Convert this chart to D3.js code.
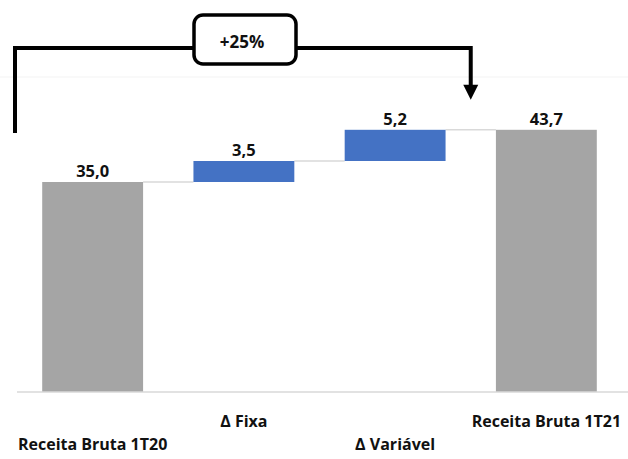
<!DOCTYPE html>
<html>
<head>
<meta charset="utf-8">
<script src="https://cdn.jsdelivr.net/npm/d3@7"></script>
<style>
  html, body { margin: 0; padding: 0; background: #fff; }
  svg text { font-family: "Open Sans", "Noto Sans", sans-serif; font-weight: 700; fill: #111; }
</style>
</head>
<body>
<svg id="chart" width="628" height="459"></svg>
<script>
// Receita bruta bridge: 1T20 -> 1T21
const categories = ["Receita Bruta 1T20", "Δ Fixa", "Δ Variável", "Receita Bruta 1T21"];
const values = [35.0, 3.5, 5.2, 43.7];
const kinds = ["total", "delta", "delta", "total"];
const valueLabels = ["35,0", "3,5", "5,2", "43,7"];
const growthLabel = "+25%";

const colors = { total: "#A5A5A5", delta: "#4472C4", connector: "#D9D9D9", axis: "#D9D9D9" };

const svg = d3.select("#chart");

const x = d3.scaleBand()
  .domain(categories)
  .range([17, 622])
  .paddingInner(0.333)
  .paddingOuter(0.1667);

const y = d3.scaleLinear().domain([0, 52.5]).range([392, 77]);

// Build floating segments: totals start at 0, deltas stack on the running total
let running = 0;
const bars = categories.map((c, i) => {
  let y0, y1;
  if (kinds[i] === "total") { y0 = 0; y1 = values[i]; running = values[i]; }
  else { y0 = running; y1 = running + values[i]; running = y1; }
  return { cat: c, y0, y1, kind: kinds[i], label: valueLabels[i] };
});

// faint plot-area top edge
svg.append("line")
  .attr("x1", 0).attr("x2", 628)
  .attr("y1", y.range()[1]).attr("y2", y.range()[1])
  .attr("stroke", "#f3f3f3").attr("stroke-width", 1);

// connectors between consecutive bars
for (let i = 0; i < bars.length - 1; i++) {
  const top = bars[i].y1;
  svg.append("line")
    .attr("x1", x(bars[i].cat) + x.bandwidth())
    .attr("x2", x(bars[i + 1].cat))
    .attr("y1", y(top)).attr("y2", y(top))
    .attr("stroke", colors.connector).attr("stroke-width", 1.5);
}

// bars
svg.selectAll("rect.bar").data(bars).join("rect")
  .attr("class", "bar")
  .attr("x", d => x(d.cat))
  .attr("width", x.bandwidth())
  .attr("y", d => y(d.y1))
  .attr("height", d => y(d.y0) - y(d.y1))
  .attr("fill", d => colors[d.kind]);

// value labels
svg.selectAll("text.val").data(bars).join("text")
  .attr("class", "val")
  .attr("x", d => x(d.cat) + x.bandwidth() / 2)
  .attr("y", d => y(d.y1) - 5)
  .attr("text-anchor", "middle")
  .attr("font-size", 16.5)
  .text(d => d.label);

// category axis baseline
svg.append("line")
  .attr("x1", x.range()[0]).attr("x2", 628)
  .attr("y1", y(0)).attr("y2", y(0))
  .attr("stroke", colors.axis).attr("stroke-width", 1.5);

// staggered category labels
svg.selectAll("text.cat").data(categories).join("text")
  .attr("class", "cat")
  .attr("x", d => x(d) + x.bandwidth() / 2)
  .attr("y", (d, i) => i % 2 === 0 ? 450 : 427)
  .attr("text-anchor", "middle")
  .attr("font-size", 16)
  .text(d => d);

// growth bracket from first total to final total
const leftX = 15;
const arrowX = (x(categories[2]) + x.bandwidth() + x(categories[3])) / 2;
const bracketY = 48;
const leftBottom = y(values[0]) - 49;
const arrowTip = y(values[3]) - 30;

svg.append("path")
  .attr("d", `M${leftX},${leftBottom} V${bracketY} H${arrowX} V${arrowTip - 13}`)
  .attr("fill", "none").attr("stroke", "#000").attr("stroke-width", 4)
  .attr("stroke-linejoin", "miter");

svg.append("path")
  .attr("d", `M${arrowX - 7.5},${arrowTip - 15} L${arrowX + 7.5},${arrowTip - 15} L${arrowX},${arrowTip} Z`)
  .attr("fill", "#000");

const boxX = 194, boxW = 102, boxY = 15, boxH = 49;
svg.append("rect")
  .attr("x", boxX).attr("y", boxY).attr("width", boxW).attr("height", boxH)
  .attr("rx", 9).attr("ry", 9)
  .attr("fill", "#fff").attr("stroke", "#000").attr("stroke-width", 3.5);

svg.append("text")
  .attr("x", boxX + boxW / 2 - 3)
  .attr("y", 48)
  .attr("text-anchor", "middle")
  .attr("font-size", 17)
  .text(growthLabel);
</script>
</body>
</html>
